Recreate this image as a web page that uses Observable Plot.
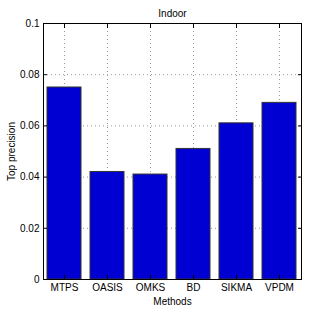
<!DOCTYPE html>
<html>
<head>
<meta charset="utf-8">
<script src="https://cdn.jsdelivr.net/npm/d3@7"></script>
<script src="https://cdn.jsdelivr.net/npm/@observablehq/plot@0.6"></script>
<style>
  html, body { margin: 0; padding: 0; background: #fff; }
  svg { display: block; }
</style>
</head>
<body>
<div id="chart"></div>
<script>
const methods = ["MTPS", "OASIS", "OMKS", "BD", "SIKMA", "VPDM"];
const precision = [0.075, 0.042, 0.041, 0.051, 0.061, 0.069];
const yTicks = [0, 0.02, 0.04, 0.06, 0.08, 0.1];
const yTickLabels = ["0", "0.02", "0.04", "0.06", "0.08", "0.1"];
const titleText = "Indoor";
const xLabel = "Methods";
const yLabel = "Top precision";

const data = methods.map((m, i) => ({method: m, value: precision[i]}));

const chart = Plot.plot({
  width: 332,
  height: 314,
  marginLeft: 43,
  marginRight: 31,
  marginTop: 23,
  marginBottom: 35,
  style: {fontFamily: "'Liberation Sans', Arial, Helvetica, sans-serif", fontSize: "10px", color: "#000", background: "#fff"},
  x: {type: "band", domain: methods, paddingInner: 0.2, paddingOuter: 0.1},
  y: {domain: [0, 0.1]},
  marks: [
    Plot.ruleY(yTicks.slice(1, -1), {stroke: "#999", strokeDasharray: "1,3", strokeWidth: 1}),
    Plot.ruleX(methods, {stroke: "#999", strokeDasharray: "1,3", strokeWidth: 1}),
    Plot.barY(data, {x: "method", y: "value", fill: "#0000d2", stroke: "#333", strokeWidth: 1}),
    Plot.frame({stroke: "#000", strokeWidth: 1}),
    Plot.axisY({anchor: "left", ticks: yTicks, tickSize: -4, tickPadding: 8,
      tickFormat: (d) => yTickLabels[yTicks.indexOf(d)],
      label: yLabel, labelAnchor: "center", labelArrow: "none", labelOffset: 36}),
    Plot.axisY({anchor: "right", ticks: yTicks, tickSize: -4, text: null, label: null}),
    Plot.axisX({anchor: "bottom", tickSize: -4, tickPadding: 8,
      label: xLabel, labelAnchor: "center", labelArrow: "none", labelOffset: 25}),
    Plot.axisX({anchor: "top", tickSize: -4, text: null, label: null}),
    Plot.text([titleText], {frameAnchor: "top", dy: -14, fontSize: 10, fill: "#000"})
  ]
});
document.getElementById("chart").appendChild(chart);
</script>
</body>
</html>
